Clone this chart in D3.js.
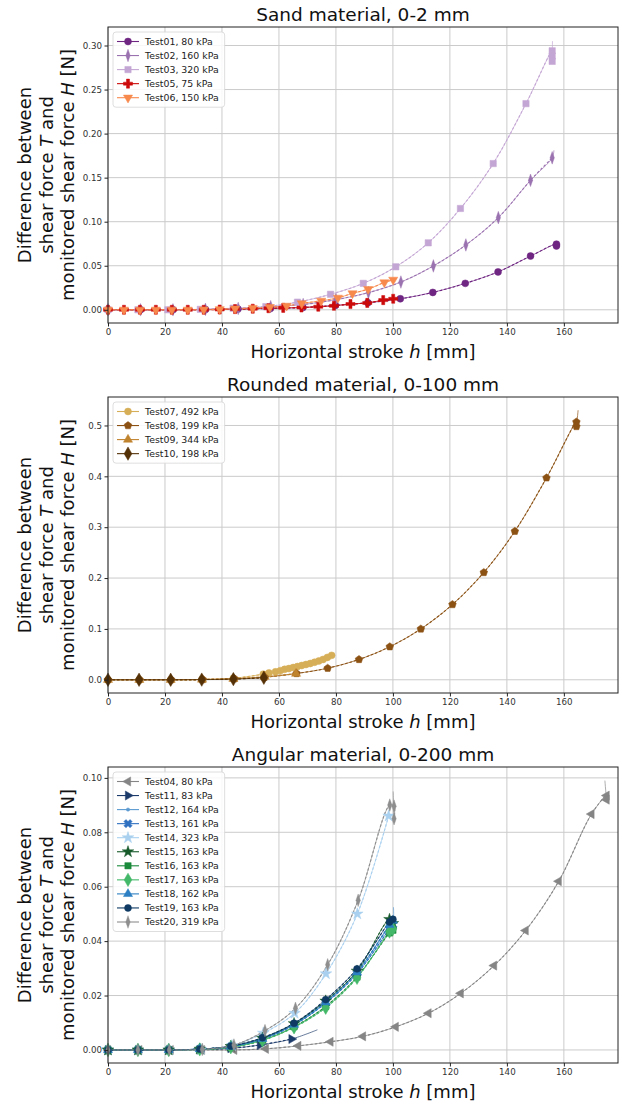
<!doctype html>
<meta charset="utf-8">
<title>Shear force difference</title>
<style>
body { margin: 0; background: #fff; }
svg { display: block; font-family: "DejaVu Sans", sans-serif; }
</style>
<svg id="visual" width="622" height="1106"></svg>
<script src="https://cdn.jsdelivr.net/npm/d3@7"></script>
<script>

// (ticks)
var xTicks = [0, 20, 40, 60, 80, 100, 120, 140, 160];
var sandTicks = [0, 0.05, 0.10, 0.15, 0.20, 0.25, 0.30];
var roundTicks = [0, 0.1, 0.2, 0.3, 0.4, 0.5];
var angTicks = [0, 0.02, 0.04, 0.06, 0.08, 0.10];

// (legend labels)
var sandLabels = ["Test01, 80 kPa", "Test02, 160 kPa", "Test03, 320 kPa", "Test05, 75 kPa", "Test06, 150 kPa"];
var roundLabels = ["Test07, 492 kPa", "Test08, 199 kPa", "Test09, 344 kPa", "Test10, 198 kPa"];
var angLabels = ["Test04, 80 kPa", "Test11, 83 kPa", "Test12, 164 kPa", "Test13, 161 kPa", "Test14, 323 kPa",
  "Test15, 163 kPa", "Test16, 163 kPa", "Test17, 163 kPa", "Test18, 162 kPa", "Test19, 163 kPa", "Test20, 319 kPa"];

// (sand data) stroke h [mm], difference [N]
var test01H = [0, 11.4, 22.8, 34.2, 45.6, 57.0, 68.4, 79.8, 91.2, 102.6, 114.0, 125.4, 136.9, 148.3, 157.4, 157.4];
var test01D = [0, 0, 0, 0.0003, 0.0008, 0.0015, 0.0025, 0.0050, 0.0080, 0.0125, 0.0197, 0.0300, 0.0430, 0.0610, 0.0745, 0.0725];
var test02H = [0, 11.4, 22.8, 34.2, 45.7, 57.1, 68.5, 80.0, 91.4, 102.8, 114.2, 125.6, 137.0, 148.3, 155.9];
var test02D = [0, 0, 0, 0.0005, 0.0015, 0.0035, 0.0060, 0.0115, 0.0195, 0.0315, 0.0498, 0.0736, 0.1046, 0.1470, 0.1725];
var test03H = [0, 10.5, 21.0, 32.4, 43.9, 55.4, 66.5, 78.1, 89.6, 101.0, 112.4, 123.7, 135.2, 146.7, 155.9, 155.9, 155.9];
var test03D = [0, 0, 0, 0.0005, 0.0018, 0.0036, 0.0087, 0.0176, 0.0300, 0.0488, 0.0760, 0.1150, 0.1660, 0.2340, 0.2940, 0.2880, 0.2820];
var test05H = [0, 5.6, 11.2, 16.8, 22.4, 28.0, 33.6, 39.2, 44.6, 50.8, 56.3, 61.5, 67.9, 73.8, 79.3, 85.1, 91.0, 96.6, 100.1];
var test05D = [0, 0, 0, 0, 0, 0, 0, 0.0003, 0.0008, 0.0012, 0.0018, 0.0022, 0.0026, 0.0035, 0.0045, 0.0065, 0.0078, 0.0110, 0.0125];
var test06H = [0, 5.6, 11.2, 16.8, 22.4, 28.0, 33.6, 39.2, 44.6, 50.8, 56.8, 62.7, 68.0, 74.8, 80.7, 85.8, 91.3, 97.0, 100.1];
var test06D = [0, 0, 0, 0, 0, 0, 0.0002, 0.0006, 0.0012, 0.0020, 0.0030, 0.0045, 0.0072, 0.0102, 0.0136, 0.0186, 0.0234, 0.0310, 0.0340];

// (rounded data)
var test07H = [0, 11, 22, 33, 44, 54.5, 56.5, 58.8, 60.5, 62, 63.5, 65, 66.5, 68, 69.5, 71, 72.5, 74, 75.5, 77, 78.5];
var test07D = [0, 0, 0, 0.0005, 0.003, 0.011, 0.0135, 0.0156, 0.018, 0.0205, 0.022, 0.024, 0.026, 0.028, 0.030, 0.032, 0.0345, 0.037, 0.040, 0.044, 0.048];
var test08H = [0, 11.1, 22.2, 33.3, 44.4, 55.0, 66.2, 77.1, 88.1, 98.9, 109.8, 120.9, 131.9, 142.8, 153.9, 164.4, 164.4];
var test08D = [0, 0, 0, 0.0005, 0.002, 0.005, 0.0124, 0.0228, 0.040, 0.065, 0.100, 0.148, 0.211, 0.292, 0.397, 0.507, 0.498];
var test09H = [0, 11, 22, 33, 44, 55, 66];
var test09D = [0, 0, 0, 0.0005, 0.002, 0.006, 0.012];
var test10H = [0, 10.9, 22.0, 32.9, 44.0, 54.7];
var test10D = [0, 0, 0, 0.0003, 0.0013, 0.004];

// (angular data)
var test04H = [0, 11, 22, 33, 44.3, 55.4, 66.8, 78.1, 89.5, 101.0, 112.5, 123.8, 135.5, 146.6, 158.2, 169.7, 175.0, 175.0];
var test04D = [0, 0, 0, 0, 0, 0.0004, 0.0015, 0.0030, 0.0050, 0.0085, 0.0135, 0.0208, 0.0310, 0.0439, 0.0620, 0.0867, 0.0935, 0.0920];
var test11H = [0, 10.6, 21.5, 32.2, 43.0, 53.3, 64.4];
var test11D = [0, 0, 0, 0.0001, 0.0006, 0.0018, 0.0040];
var clusterH = [0, 10.5, 21.3, 32.2, 43.1, 54.2, 65.3, 76.4, 87.4, 98.8, 100.0];
var test12D = [0, 0, 0, 0.0003, 0.0013, 0.0042, 0.0095, 0.0178, 0.0288, 0.0455, 0.0470];
var test13D = [0, 0, 0, 0.0003, 0.0012, 0.0040, 0.0092, 0.0172, 0.0280, 0.0445, 0.0460];
var test14H = [0, 10.6, 21.5, 32.6, 43.5, 54.5, 65.5, 76.5, 87.5, 98.5];
var test14D = [0, 0, 0, 0.0002, 0.0016, 0.0062, 0.0135, 0.0280, 0.0500, 0.0860];
var test15D = [0, 0, 0, 0.0003, 0.0013, 0.0043, 0.0097, 0.0180, 0.0290, 0.0480, 0.0465];
var test16D = [0, 0, 0, 0.0002, 0.0010, 0.0036, 0.0085, 0.0160, 0.0268, 0.0430, 0.0440];
var test17D = [0, 0, 0, 0.0002, 0.0010, 0.0035, 0.0083, 0.0155, 0.0265, 0.0435, 0.0445];
var test18D = [0, 0, 0, 0.0003, 0.0012, 0.0041, 0.0093, 0.0175, 0.0285, 0.0460, 0.0475];
var test19D = [0, 0, 0, 0.0003, 0.0014, 0.0045, 0.0098, 0.0185, 0.0298, 0.0470, 0.0480];
var test20H = [0, 10.5, 21.5, 33.1, 44.2, 55.1, 65.8, 77.1, 87.8, 98.9, 100.4, 100.4];
var test20D = [0, 0, 0, 0.0002, 0.0018, 0.0071, 0.0153, 0.0313, 0.0550, 0.0900, 0.0896, 0.0850];

// (end of each fitted curve) [h, difference]
var test01Fit = [157.5, 0.077];
var test02Fit = [156.5, 0.181];
var test03Fit = [156.0, 0.305];
var test08Fit = [165.0, 0.530];
var test04Fit = [174.4, 0.099];
var test11Fit = [73.5, 0.0074];
var test12Fit = [100.2, 0.0525];
var test20Fit = [100.1, 0.095];

// (series tables)
var sandSeries = [
  {h: test01H, d: test01D, fit: test01Fit, color: "#6f2682", shape: "o"},
  {h: test02H, d: test02D, fit: test02Fit, color: "#9b72b0", shape: "d"},
  {h: test03H, d: test03D, fit: test03Fit, color: "#c4a6d4", shape: "s"},
  {h: test05H, d: test05D, color: "#cc0a0a", shape: "P"},
  {h: test06H, d: test06D, color: "#f7894d", shape: "v"}
];
var roundSeries = [
  {h: test07H, d: test07D, color: "#d6ae58", shape: "o"},
  {h: test08H, d: test08D, fit: test08Fit, color: "#8c5214", shape: "p"},
  {h: test09H, d: test09D, color: "#c0832e", shape: "^"},
  {h: test10H, d: test10D, color: "#553107", shape: "D"}
];
var angSeries = [
  {h: test04H, d: test04D, fit: test04Fit, color: "#858585", shape: "<"},
  {h: test11H, d: test11D, fit: test11Fit, color: "#1d3b6a", shape: ">"},
  {h: clusterH, d: test12D, fit: test12Fit, color: "#5a99cf", shape: "."},
  {h: clusterH, d: test13D, color: "#2f71c0", shape: "X"},
  {h: test14H, d: test14D, color: "#a9d0ef", shape: "*"},
  {h: clusterH, d: test15D, color: "#175a2a", shape: "*"},
  {h: clusterH, d: test16D, color: "#1b8a3b", shape: "s"},
  {h: clusterH, d: test17D, color: "#44b869", shape: "D"},
  {h: clusterH, d: test18D, color: "#2b7fc2", shape: "^"},
  {h: clusterH, d: test19D, color: "#0f3a63", shape: "o"},
  {h: test20H, d: test20D, fit: test20Fit, color: "#8e8e8e", shape: "d"}
];

// (layout)
var left = 108, right = 618, plotH = 296;
var svg = d3.select("#visual");
var x = d3.scaleLinear().domain([0, 179]).range([left, right]);

// (markers)
var pentagon = {
  draw: function(ctx, size) {
    var r = Math.sqrt(size / 2.378);
    for (var i = 0; i < 5; i++) {
      var a = -Math.PI / 2 + i * 2 * Math.PI / 5;
      if (i === 0) ctx.moveTo(r * Math.cos(a), r * Math.sin(a));
      else ctx.lineTo(r * Math.cos(a), r * Math.sin(a));
    }
    ctx.closePath();
  }
};
var shapes = {
  "o": {type: d3.symbolCircle, size: 38, rot: 0, sx: 1},
  "d": {type: d3.symbolDiamond, size: 46, rot: 0, sx: 0.6},
  "s": {type: d3.symbolSquare, size: 40, rot: 0, sx: 1},
  "P": {type: d3.symbolCross, size: 46, rot: 0, sx: 1},
  "v": {type: d3.symbolTriangle, size: 36, rot: 180, sx: 1},
  "p": {type: pentagon, size: 38, rot: 0, sx: 1},
  "^": {type: d3.symbolTriangle, size: 36, rot: 0, sx: 1},
  "D": {type: d3.symbolDiamond, size: 52, rot: 0, sx: 1},
  "<": {type: d3.symbolTriangle, size: 36, rot: -90, sx: 1},
  ">": {type: d3.symbolTriangle, size: 36, rot: 90, sx: 1},
  ".": {type: d3.symbolCircle, size: 9, rot: 0, sx: 1},
  "X": {type: d3.symbolCross, size: 42, rot: 45, sx: 1},
  "*": {type: d3.symbolStar, size: 42, rot: 0, sx: 1}
};
function markerPath(shape) {
  var s = shapes[shape];
  return d3.symbol().type(s.type).size(s.size)();
}
function markerTransform(shape, px, py) {
  var s = shapes[shape];
  return "translate(" + px + "," + py + ") rotate(" + s.rot + ") scale(" + s.sx + ",1)";
}

function drawPanel(idx, top, yDomain, yTicks, yFmt, title, series, labels) {
  var bottom = top + plotH;
  var y = d3.scaleLinear().domain(yDomain).range([bottom, top]);
  var g = svg.append("g");

  // grid
  g.selectAll(".gx").data(xTicks).enter().append("line")
    .attr("x1", function(d) { return x(d); }).attr("x2", function(d) { return x(d); })
    .attr("y1", top).attr("y2", bottom)
    .attr("stroke", "#cbcbcb").attr("stroke-width", 1);
  g.selectAll(".gy").data(yTicks).enter().append("line")
    .attr("x1", left).attr("x2", right)
    .attr("y1", function(d) { return y(d); }).attr("y2", function(d) { return y(d); })
    .attr("stroke", "#cbcbcb").attr("stroke-width", 1);

  // clip
  svg.append("clipPath").attr("id", "clip" + idx).append("rect")
    .attr("x", left).attr("y", top).attr("width", right - left).attr("height", plotH);

  var line = d3.line()
    .x(function(p) { return x(p[0]); })
    .y(function(p) { return y(p[1]); })
    .curve(d3.curveCatmullRom.alpha(0.5));

  var lines = g.append("g").attr("clip-path", "url(#clip" + idx + ")");
  series.forEach(function(s) {
    var pts = s.h.map(function(h, i) { return [h, s.d[i]]; });
    var fitPts = s.fit ? pts.concat([s.fit]) : pts;
    lines.append("path").attr("d", line(fitPts))
      .attr("fill", "none").attr("stroke", s.color).attr("stroke-width", 0.8).attr("opacity", 0.85);
    lines.append("path").attr("d", line(pts))
      .attr("fill", "none").attr("stroke", s.color).attr("stroke-width", 1.1)
      .attr("stroke-dasharray", "2.5,2");
  });

  series.forEach(function(s) {
    var pts = s.h.map(function(h, i) { return [h, s.d[i]]; });
    g.append("g").selectAll("path").data(pts).enter().append("path")
      .attr("d", markerPath(s.shape))
      .attr("transform", function(p) { return markerTransform(s.shape, x(p[0]), y(p[1])); })
      .attr("fill", s.color).attr("stroke", s.color).attr("stroke-width", 0.5);
  });

  // frame
  g.append("rect").attr("x", left).attr("y", top).attr("width", right - left).attr("height", plotH)
    .attr("fill", "none").attr("stroke", "#222").attr("stroke-width", 1);

  // axes
  var xa = g.append("g").attr("transform", "translate(0," + bottom + ")")
    .call(d3.axisBottom(x).tickValues(xTicks).tickSize(3.5).tickPadding(2.5).tickFormat(d3.format("d")));
  var ya = g.append("g").attr("transform", "translate(" + left + ",0)")
    .call(d3.axisLeft(y).tickValues(yTicks).tickSize(3.5).tickPadding(2.5).tickFormat(d3.format(yFmt)));
  [xa, ya].forEach(function(a) {
    a.select(".domain").remove();
    a.selectAll("line").attr("stroke", "#222");
    a.selectAll("text").attr("font-size", 8.7).attr("fill", "#333").attr("font-family", "DejaVu Sans, sans-serif");
  });

  // title
  g.append("text").attr("x", (left + right) / 2).attr("y", top - 6)
    .attr("text-anchor", "middle").attr("font-size", 18.5).attr("fill", "#111").text(title);

  // x label
  var xl = g.append("text").attr("x", (left + right) / 2).attr("y", bottom + 35)
    .attr("text-anchor", "middle").attr("font-size", 18).attr("fill", "#111");
  xl.append("tspan").text("Horizontal stroke ");
  xl.append("tspan").attr("font-style", "italic").text("h");
  xl.append("tspan").text(" [mm]");

  // y label, three lines
  var cy = (top + bottom) / 2;
  var yLines = [
    [["Difference between", false]],
    [["shear force ", false], ["T", true], [" and", false]],
    [["monitored shear force ", false], ["H", true], [" [N]", false]]
  ];
  var lineX = [25, 47, 68];
  yLines.forEach(function(parts, i) {
    var t = g.append("text")
      .attr("transform", "translate(" + lineX[i] + "," + cy + ") rotate(-90)")
      .attr("text-anchor", "middle").attr("dy", "0.35em")
      .attr("font-size", 18).attr("fill", "#111");
    parts.forEach(function(p) {
      t.append("tspan").attr("font-style", p[1] ? "italic" : "normal").text(p[0]);
    });
  });

  // legend
  var lg = g.append("g").attr("transform", "translate(" + (left + 5) + "," + (top + 5) + ")");
  var box = lg.append("rect").attr("rx", 3).attr("fill", "#fff").attr("fill-opacity", 0.85)
    .attr("stroke", "#d5d5d5").attr("stroke-width", 0.8);
  var maxW = 0;
  series.forEach(function(s, i) {
    var ry = 9.5 + i * 14.05;
    lg.append("line").attr("x1", 4).attr("x2", 26).attr("y1", ry).attr("y2", ry)
      .attr("stroke", s.color).attr("stroke-width", 1.1);
    lg.append("path").attr("d", markerPath(s.shape))
      .attr("transform", markerTransform(s.shape, 15, ry))
      .attr("fill", s.color).attr("stroke", s.color).attr("stroke-width", 0.5);
    var t = lg.append("text").attr("x", 32).attr("y", ry).attr("dy", "0.35em")
      .attr("font-size", 9.4).attr("fill", "#222").text(labels[i]);
    maxW = Math.max(maxW, t.node().getComputedTextLength());
  });
  box.attr("width", 32 + maxW + 6).attr("height", 19 + (series.length - 1) * 14.05);
}

drawPanel(0, 27, [-0.015, 0.321], sandTicks, ".2f", "Sand material, 0-2 mm", sandSeries, sandLabels);
drawPanel(1, 397, [-0.026, 0.556], roundTicks, ".1f", "Rounded material, 0-100 mm", roundSeries, roundLabels);
drawPanel(2, 767, [-0.0048, 0.104], angTicks, ".2f", "Angular material, 0-200 mm", angSeries, angLabels);

</script>
